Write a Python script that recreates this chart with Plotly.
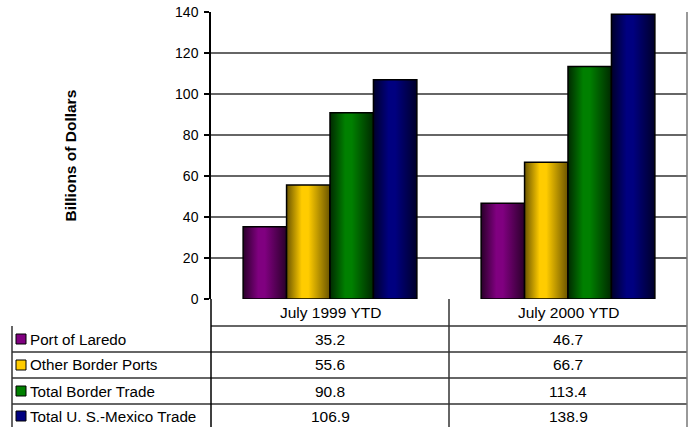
import plotly.graph_objects as go

categories = ["July 1999 YTD", "July 2000 YTD"]
series_names = ["Port of Laredo", "Other Border Ports", "Total Border Trade", "Total U. S.-Mexico Trade"]
port_of_laredo = [35.2, 46.7]
other_border_ports = [55.6, 66.7]
total_border_trade = [90.8, 113.4]
total_us_mexico_trade = [106.9, 138.9]
series_values = [port_of_laredo, other_border_ports, total_border_trade, total_us_mexico_trade]
colors = ["#800080", "#FFCC00", "#008000", "#000080"]
y_ticks = [0, 20, 40, 60, 80, 100, 120, 140]

W, H = 691, 427
L, R, T, B = 211, 4, 12, 128
PW, PH = W - L - R, H - T - B
FONT = "Liberation Sans, Arial, sans-serif"
TFS = 15.5
LFS = 15.2


def px(xp):
    return (xp - L) / PW


def py(yp):
    return (H - B - yp) / PH


fig = go.Figure()
for name, vals, col in zip(series_names, series_values, colors):
    fig.add_trace(go.Bar(
        x=categories, y=vals, name=name,
        marker=dict(color=col, line=dict(color="black", width=1.5)),
    ))

shapes = []
annotations = []
line_col = "#333333"
row_edges = [299, 326, 352, 378, 404, 430]
shapes.append(dict(type="line", xref="paper", yref="paper", x0=px(211), x1=px(687),
                   y0=py(326), y1=py(326), line=dict(color=line_col, width=1.5)))
for ye in row_edges[2:-1]:
    shapes.append(dict(type="line", xref="paper", yref="paper", x0=px(12), x1=px(687),
                       y0=py(ye), y1=py(ye), line=dict(color=line_col, width=1.5)))
shapes.append(dict(type="line", xref="paper", yref="paper", x0=px(12), x1=px(12),
                   y0=py(326), y1=py(430), line=dict(color=line_col, width=1.5)))
shapes.append(dict(type="line", xref="paper", yref="paper", x0=px(211), x1=px(211),
                   y0=py(299), y1=py(430), line=dict(color="black", width=1.5)))
shapes.append(dict(type="line", xref="paper", yref="paper", x0=px(449), x1=px(449),
                   y0=py(299), y1=py(430), line=dict(color=line_col, width=1.5)))
shapes.append(dict(type="line", xref="paper", yref="paper", x0=px(687), x1=px(687),
                   y0=py(12), y1=py(430), line=dict(color="#777777", width=1.5)))

for cat in categories:
    annotations.append(dict(x=cat, xref="x", y=py(312.5), yref="paper", text=cat,
                            showarrow=False, font=dict(family=FONT, size=TFS, color="black"),
                            xanchor="center", yanchor="middle"))
for i, (name, vals, col) in enumerate(zip(series_names, series_values, colors)):
    yc = (row_edges[i + 1] + row_edges[i + 2]) / 2
    if i == 3:
        yc = 416
    shapes.append(dict(type="rect", xref="paper", yref="paper", x0=px(16), x1=px(26),
                       y0=py(yc - 5), y1=py(yc + 5), fillcolor=col,
                       line=dict(color="black", width=1)))
    annotations.append(dict(x=px(28), xref="paper", y=py(yc), yref="paper", text=name,
                            showarrow=False, font=dict(family=FONT, size=LFS, color="black"),
                            xanchor="left", yanchor="middle"))
    for cat, v in zip(categories, vals):
        annotations.append(dict(x=cat, xref="x", y=py(yc), yref="paper", text=f"{v:.1f}",
                                showarrow=False, font=dict(family=FONT, size=TFS, color="black"),
                                xanchor="center", yanchor="middle"))

annotations.append(dict(x=px(70), xref="paper", y=0.5, yref="paper", text="<b>Billions of Dollars</b>",
                        textangle=-90, showarrow=False, font=dict(family=FONT, size=15.5, color="black"),
                        xanchor="center", yanchor="middle"))

fig.update_layout(
    width=W, height=H, autosize=False,
    margin=dict(l=L, r=R, t=T, b=B, pad=0),
    paper_bgcolor="white", plot_bgcolor="white",
    barmode="group", bargap=0.27, bargroupgap=0,
    showlegend=False,
    font=dict(family=FONT, size=14, color="black"),
    shapes=shapes, annotations=annotations,
)
fig.update_xaxes(showticklabels=False, ticks="", showline=False, showgrid=False, zeroline=False)
fig.update_yaxes(range=[0, 140], tickvals=y_ticks, showline=True, linecolor="black", linewidth=1.5,
                 ticks="outside", ticklen=5, tickcolor="black", tickwidth=1.5, ticklabelstandoff=3,
                 showgrid=True, gridcolor="#666666", gridwidth=1.5, zeroline=False,
                 tickfont=dict(family=FONT, size=14, color="black"))

post = """
var gd = document.getElementById('{plot_id}');
var svg = gd.querySelector('svg.main-svg');
var ns = 'http://www.w3.org/2000/svg';
var defs = svg.querySelector('defs');
var cols = [['#800080','#2a002a'],['#FFCC00','#6b5500'],['#008000','#002a00'],['#000080','#00002a']];
cols.forEach(function(c, i){
  var g = document.createElementNS(ns, 'linearGradient');
  g.setAttribute('id', 'bargrad' + i);
  g.setAttribute('x1','0'); g.setAttribute('x2','1'); g.setAttribute('y1','0'); g.setAttribute('y2','0');
  [[0,c[1]],[0.35,c[0]],[0.5,c[0]],[1,c[1]]].forEach(function(s){
    var st = document.createElementNS(ns, 'stop');
    st.setAttribute('offset', s[0]); st.setAttribute('stop-color', s[1]);
    g.appendChild(st);
  });
  defs.appendChild(g);
});
var traces = gd.querySelectorAll('g.trace.bars');
traces.forEach(function(t, i){
  t.querySelectorAll('g.point path').forEach(function(p){ p.style.fill = 'url(#bargrad' + i + ')'; });
});
"""

fig.write_html("out.html", post_script=post)
